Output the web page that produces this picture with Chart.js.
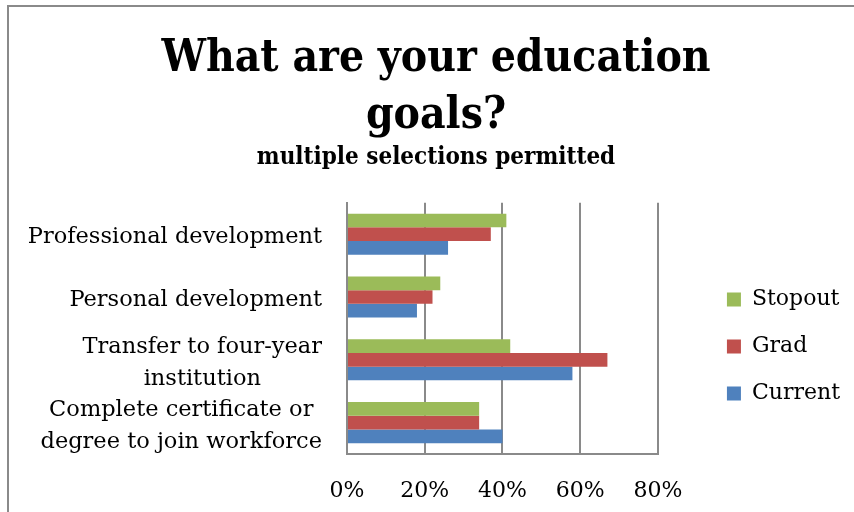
<!DOCTYPE html>
<html>
<head>
<meta charset="utf-8">
<title>Education goals</title>
<script src="https://cdn.jsdelivr.net/npm/chart.js@4.4.0/dist/chart.umd.min.js"></script>
<style>
  html, body { margin: 0; padding: 0; background: #fff; overflow: hidden; }
  #frame {
    position: absolute; left: 7px; top: 5px; width: 900px; height: 600px;
    border-left: 2px solid #8a8a8a; border-top: 2px solid #8a8a8a;
  }
  #wrap { position: absolute; left: 0; top: 0; width: 850px; height: 512px; }
</style>
</head>
<body>
<div id="frame"></div>
<div id="wrap"><canvas id="myChart"></canvas></div>
<script>
// categories, top to bottom; inner arrays are the wrapped label lines
const categories = [
  ['Professional development'],
  ['Personal development'],
  ['Transfer to four-year', 'institution'],
  ['Complete certificate or', 'degree to join workforce'],
];
const seriesNames = ['Stopout', 'Grad', 'Current'];
const stopoutValues = [41, 24, 42, 34];
const gradValues = [37, 22, 67, 34];
const currentValues = [26, 18, 58, 40];
const xTickValues = [0, 20, 40, 60, 80];
const seriesColors = ['#9BBB59', '#C0504D', '#4F81BD'];

const serif = "'DejaVu Serif'";
const serifNarrow = "'DejaVu Serif Condensed', 'DejaVu Serif'";
const gridGray = '#8a8a8a';
const padLeft = 22;

// category labels: block right aligned against the axis, lines centred inside the block
const categoryLabels = {
  id: 'categoryLabels',
  afterDraw(chart) {
    const { ctx } = chart;
    const y = chart.scales.y;
    ctx.save();
    ctx.font = '22.5px ' + serif;
    ctx.fillStyle = '#000';
    ctx.textAlign = 'center';
    ctx.textBaseline = 'alphabetic';
    categories.forEach((lines, i) => {
      const cy = y.getPixelForTick(i);
      const w = Math.max(...lines.map(l => ctx.measureText(l).width));
      const cx = y.right - 25 - w / 2;
      lines.forEach((line, j) => {
        ctx.fillText(line, cx, cy + 9 + (j - (lines.length - 1) / 2) * 32);
      });
    });
    ctx.restore();
  }
};

const values = [stopoutValues, gradValues, currentValues];

new Chart(document.getElementById('myChart'), {
  type: 'bar',
  data: {
    labels: categories.map(l => l.join(' ')),
    datasets: seriesNames.map((name, i) => ({
      label: name,
      data: values[i],
      backgroundColor: seriesColors[i],
      borderWidth: 0,
      categoryPercentage: 0.655,
      barPercentage: 1.0,
    })),
  },
  options: {
    indexAxis: 'y',
    responsive: true,
    maintainAspectRatio: false,
    animation: false,
    layout: { padding: { top: 0, right: 0, bottom: 0, left: padLeft } },
    scales: {
      x: {
        min: xTickValues[0],
        max: xTickValues[xTickValues.length - 1],
        afterBuildTicks(scale) {
          scale.ticks = xTickValues.map(v => ({ value: v }));
        },
        ticks: {
          callback: v => v + '%',
          font: { family: serif, size: 22 },
          color: '#000',
          padding: 24,
        },
        grid: { color: gridGray, lineWidth: 2, drawTicks: false },
        border: { color: gridGray, width: 2 },
        afterFit(scale) { scale.height = 58; },
      },
      y: {
        ticks: { display: false },
        grid: { display: false },
        border: { color: gridGray, width: 2 },
        afterFit(scale) { scale.width = 347 - padLeft; },
      },
      // empty axis that keeps the legend away from the plot
      gap: {
        type: 'linear',
        position: 'right',
        ticks: { display: false },
        grid: { display: false },
        border: { display: false },
        afterFit(scale) { scale.width = 44; },
      },
    },
    plugins: {
      title: {
        display: true,
        text: ['What are your education', 'goals?'],
        color: '#000',
        font: { family: serifNarrow, size: 44, weight: 'bold', lineHeight: 57 / 44 },
        padding: { top: 31, bottom: 0 },
      },
      subtitle: {
        display: true,
        text: 'multiple selections permitted',
        color: '#000',
        font: { family: serifNarrow, size: 24, weight: 'bold', lineHeight: 1.2 },
        padding: { top: -2, bottom: 31 },
      },
      legend: {
        position: 'right',
        fullSize: false,
        maxWidth: 150,
        title: { display: true, text: '', padding: 13, font: { size: 10, lineHeight: 1 } },
        labels: {
          boxWidth: 14,
          boxHeight: 14,
          padding: 25,
          color: '#000',
          font: { family: serif, size: 22 },
        },
      },
      tooltip: { enabled: false },
    },
  },
  plugins: [categoryLabels],
});
</script>
</body>
</html>
